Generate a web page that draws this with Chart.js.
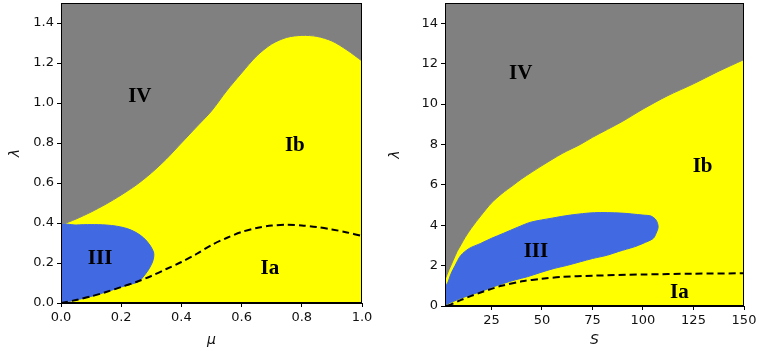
<!DOCTYPE html>
<html>
<head>
<meta charset="utf-8">
<script src="https://cdn.jsdelivr.net/npm/chart.js@4.4.1/dist/chart.umd.min.js"></script>
<style>
  html, body { margin: 0; padding: 0; background: #fff; }
  #wrap { position: relative; width: 759px; height: 351px; }
  #left { position: absolute; left: 0; top: 0; }
  #right { position: absolute; left: 380px; top: 0; }
</style>
</head>
<body>
<div id="wrap">
  <canvas id="left" width="380" height="351"></canvas>
  <canvas id="right" width="379" height="351"></canvas>
</div>
<script>
// ---- left panel: lambda vs mu ----
const muGrid = [0, 0.05, 0.1, 0.15, 0.2, 0.25, 0.3, 0.35, 0.4, 0.45, 0.5,
  0.55, 0.6, 0.65, 0.7, 0.75, 0.8, 0.85, 0.9, 0.95, 1.0];
// IV / Ib border
const muUpper = [0.39, 0.42, 0.455, 0.495, 0.54, 0.59, 0.65, 0.72, 0.80, 0.88, 0.96,
  1.06, 1.15, 1.235, 1.295, 1.328, 1.338, 1.333, 1.31, 1.265, 1.21];
// dashed Ia / Ib line
const muDashed = [0, 0.015, 0.033, 0.055, 0.08, 0.105, 0.135, 0.17, 0.205, 0.245, 0.29,
  0.325, 0.355, 0.375, 0.387, 0.391, 0.388, 0.38, 0.368, 0.353, 0.335];
// region III outline
const blueMu = [0, 0, 0.05, 0.1, 0.15, 0.185, 0.22, 0.25, 0.275, 0.295, 0.308,
  0.305, 0.29, 0.27, 0.255, 0.2, 0.15, 0.1, 0.05, 0];
const blueMuLambda = [0, 0.385, 0.39, 0.392, 0.39, 0.384, 0.372, 0.352, 0.325, 0.29, 0.25,
  0.21, 0.165, 0.125, 0.105, 0.08, 0.055, 0.033, 0.015, 0];
const muTicks = [0, 0.2, 0.4, 0.6, 0.8, 1.0];
const muLambdaTicks = [0, 0.2, 0.4, 0.6, 0.8, 1.0, 1.2, 1.4];

// ---- right panel: lambda vs S ----
const sGrid = [2, 3, 4, 6, 8, 10, 12, 15, 20, 25, 30, 36, 40, 50, 60, 69, 75, 90, 100, 112, 125, 137, 150];
const sUpper = [1.3, 1.55, 1.8, 2.25, 2.7, 3.05, 3.4, 3.85, 4.5, 5.1, 5.55, 6.0, 6.3, 6.95, 7.55, 8.0,
  8.35, 9.15, 9.75, 10.4, 11.0, 11.6, 12.2];
const sDashX = [3, 5, 10, 15, 20, 25, 30, 40, 50, 60, 75, 100, 125, 150];
const sDashed = [0, 0.08, 0.3, 0.5, 0.68, 0.85, 1.0, 1.22, 1.35, 1.44, 1.5, 1.56, 1.6, 1.62];
const blueS = [2, 2, 3.2, 5, 7, 9.8, 14, 19.7, 25, 31, 38, 44.5, 55, 64, 76, 89, 100, 104, 106.5, 107.5,
  106.5, 105, 100, 95.7, 88, 82.5, 75, 69, 62, 56, 49, 42.8, 37, 31, 25, 19.7, 15, 9.8, 6, 3.2, 2];
const blueSLambda = [0, 1.0, 1.12, 1.6, 2.0, 2.5, 2.85, 3.1, 3.35, 3.6, 3.9, 4.15, 4.35, 4.5, 4.62, 4.6, 4.5, 4.45, 4.25, 3.92,
  3.6, 3.34, 3.1, 2.93, 2.7, 2.52, 2.35, 2.19, 2.0, 1.86, 1.65, 1.45, 1.3, 1.12, 0.92, 0.71, 0.56, 0.38, 0.22, 0.1, 0];
const sTicks = [25, 50, 75, 100, 125, 150];
const sLambdaTicks = [0, 2, 4, 6, 8, 10, 12, 14];

const GRAY = '#808080', YELLOW = '#ffff00', BLUE = '#4169e1';

function pts(xs, ys) { return xs.map((x, i) => ({ x: x, y: ys[i] })); }

// region names written on the plot
const regionText = {
  id: 'regionText',
  afterDatasetsDraw(chart, args, opts) {
    const ctx = chart.ctx, xs = chart.scales.x, ys = chart.scales.y;
    ctx.save();
    ctx.font = 'bold 21px "Liberation Serif", "Times New Roman", serif';
    ctx.fillStyle = '#000';
    ctx.textAlign = 'center';
    ctx.textBaseline = 'middle';
    opts.items.forEach(it => ctx.fillText(it.text, xs.getPixelForValue(it.x), ys.getPixelForValue(it.y)));
    ctx.restore();
  }
};
// box around plot area
const frame = {
  id: 'frame',
  afterDraw(chart) {
    const a = chart.chartArea, ctx = chart.ctx;
    ctx.save();
    ctx.strokeStyle = '#000';
    ctx.lineWidth = 1;
    ctx.strokeRect(Math.round(a.left) + 0.5, Math.round(a.top) + 0.5,
      Math.round(a.right - a.left) - 1, Math.round(a.bottom - a.top) - 1);
    ctx.restore();
  }
};

function axis(min, max, ticks, fmt, title, size, titlePad) {
  return {
    type: 'linear', min: min, max: max,
    afterBuildTicks: s => { s.ticks = ticks.map(v => ({ value: v })); },
    afterFit: s => {
      if (s.isHorizontal()) s.height = size; else s.width = size;
      s.paddingTop = 0; s.paddingBottom = 0; s.paddingLeft = 0; s.paddingRight = 0;
    },
    ticks: { color: '#111', font: { family: 'DejaVu Sans', size: 13 }, padding: 3, callback: fmt },
    grid: { display: true, drawOnChartArea: false, drawTicks: true, tickLength: 4, color: '#000' },
    border: { display: true, color: '#000' },
    title: { display: true, text: title, color: '#111', padding: titlePad,
      font: { family: 'DejaVu Sans', size: 14, style: 'italic' } }
  };
}

function makeChart(id, cfg) {
  return new Chart(document.getElementById(id), {
    type: 'scatter',
    data: {
      datasets: [
        { data: cfg.dashed, showLine: true, borderColor: '#000', borderWidth: 2, borderDash: [7, 4],
          pointRadius: 0, fill: false, tension: 0.3 },
        { data: cfg.blue, showLine: true, borderColor: BLUE, borderWidth: 1, backgroundColor: BLUE,
          pointRadius: 0, fill: 'shape', tension: 0.3 },
        { data: cfg.upper, showLine: true, borderColor: GRAY, borderWidth: 1, backgroundColor: GRAY,
          pointRadius: 0, fill: 'end', tension: 0.3 },
        { data: cfg.upper, showLine: true, borderColor: YELLOW, borderWidth: 0, backgroundColor: YELLOW,
          pointRadius: 0, fill: 'origin', tension: 0.3 }
      ]
    },
    options: {
      responsive: false, animation: false, devicePixelRatio: 1,
      layout: { padding: cfg.pad },
      plugins: { legend: { display: false }, tooltip: { enabled: false }, regionText: { items: cfg.labels } },
      scales: { x: cfg.x, y: cfg.y }
    },
    plugins: [regionText, frame]
  });
}

makeChart('left', {
  upper: pts(muGrid, muUpper),
  dashed: pts(muGrid, muDashed),
  blue: pts(blueMu, blueMuLambda),
  pad: { top: 3, right: 18, bottom: 0, left: 0 },
  x: axis(0, 1, muTicks, v => v.toFixed(1), 'μ', 48, { top: 0, bottom: 2 }),
  y: axis(0, 1.5, muLambdaTicks, v => v.toFixed(1), 'λ', 61, { top: 7, bottom: 0 }),
  labels: [
    { text: 'IV', x: 0.262, y: 1.03 }, { text: 'Ib', x: 0.777, y: 0.788 },
    { text: 'III', x: 0.13, y: 0.224 }, { text: 'Ia', x: 0.694, y: 0.17 }
  ]
});

makeChart('right', {
  upper: pts(sGrid, sUpper),
  dashed: pts(sDashX, sDashed),
  blue: pts(blueS, blueSLambda),
  pad: { top: 3, right: 15, bottom: 0, left: 0 },
  x: axis(2, 150, sTicks, v => String(v), 'S', 45, { top: 0, bottom: 2 }),
  y: axis(0, 15, sLambdaTicks, v => String(v), 'λ', 65, { top: 7, bottom: 0 }),
  labels: [
    { text: 'IV', x: 39.5, y: 11.5 }, { text: 'Ib', x: 129.5, y: 6.88 },
    { text: 'III', x: 47, y: 2.68 }, { text: 'Ia', x: 118, y: 0.68 }
  ]
});
</script>
</body>
</html>
